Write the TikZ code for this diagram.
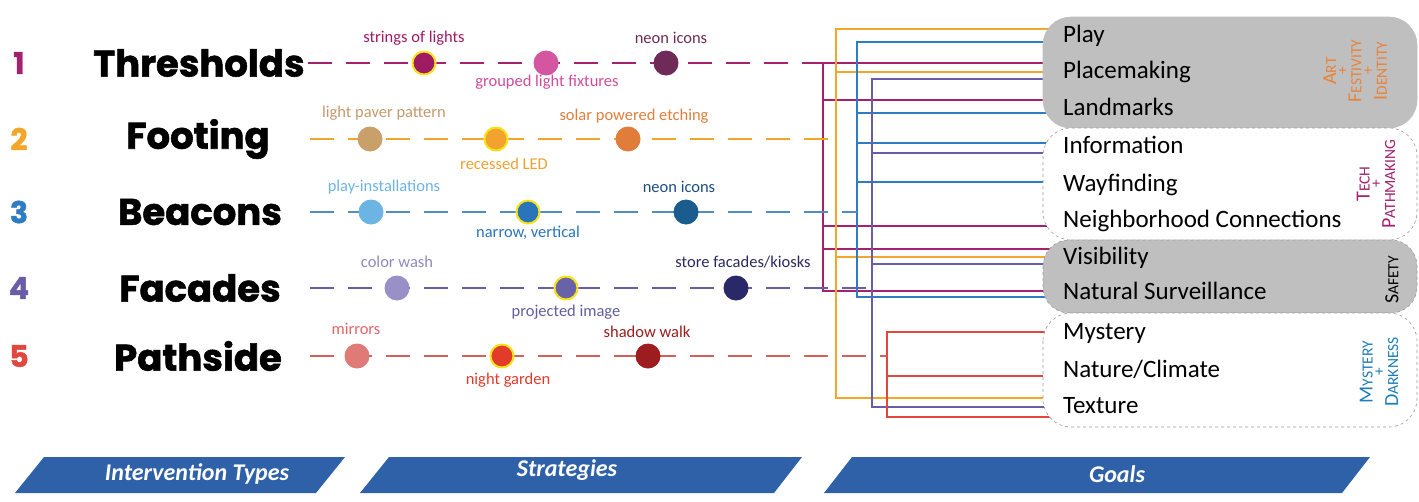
\documentclass[tikz,border=0pt]{standalone}
\usepackage{fontspec}
\setmainfont{Carlito}
\newfontfamily\typefont{Poppins}[BoldFeatures={FakeBold=1.5}]
\definecolor{thrcol}{HTML}{A3216E}
\definecolor{footcol}{HTML}{F4A62A}
\definecolor{beaccol}{HTML}{2E7CC2}
\definecolor{beacrow}{HTML}{4F8DC2}
\definecolor{faccol}{HTML}{6A5CA8}
\definecolor{pathcol}{HTML}{E0483F}
\definecolor{pathrow}{HTML}{D4605A}
\definecolor{litring}{HTML}{F6E21C}
\definecolor{panelgray}{HTML}{BFBFC0}
\definecolor{panelline}{HTML}{9A9A9A}
\definecolor{artcol}{HTML}{E8833A}
\definecolor{mystcol}{HTML}{1C7DBA}
\definecolor{bannerblue}{HTML}{2F61A8}
\pgfdeclarelayer{wires}
\pgfdeclarelayer{panels}
\pgfsetlayers{wires,panels,main}
\newcommand{\fsc}[2]{{\fontsize{20}{11.5}\selectfont #1}{\fontsize{15.5}{11.5}\selectfont #2}}

\begin{document}
\begin{tikzpicture}[x=1pt, y=-1pt,
  typelabel/.style={font=\typefont\bfseries\fontsize{37}{37}\selectfont, inner sep=0pt},
  numlabel/.style={font=\typefont\bfseries\fontsize{30}{30}\selectfont, inner sep=0pt},
  stratlabel/.style={font=\fontsize{16.5}{16.5}\selectfont, inner sep=0pt},
  goal/.style={font=\fontsize{25}{25}\selectfont, anchor=west, inner sep=0pt, text height=17pt, text depth=6pt},
  dot/.style={circle, minimum size=25pt, inner sep=0pt},
  lit/.style={dot, draw=litring, line width=2pt, minimum size=23pt},
  row/.style={dash pattern=on 24pt off 14pt, line width=1.4pt},
  wire/.style={line width=1.3pt},
  panel/.style={rounded corners=28pt, draw=panelline, dashed, line width=0.6pt},
  grouplabel/.style={rotate=90, align=center, inner sep=0pt, font=\fontsize{15.5}{11.5}\selectfont},
  banner/.style={fill=bannerblue},
  bannertext/.style={font=\bfseries\itshape\fontsize{24}{24}\selectfont, text=white, inner sep=0pt}]
\useasboundingbox (0,0) rectangle (1419,501);

\node[numlabel, text=thrcol] (n1) at (19,63) {1};
\node[numlabel, text=footcol] (n2) at (19,139) {2};
\node[numlabel, text=beaccol] (n3) at (19,212) {3};
\node[numlabel, text=faccol] (n4) at (19,288) {4};
\node[numlabel, text=pathcol] (n5) at (19,356) {5};
\node[typelabel] (thresholds) at (199,63) {Thresholds};
\node[typelabel] (footing) at (198,139) {Footing};
\node[typelabel] (beacons) at (200,212) {Beacons};
\node[typelabel] (facades) at (200,288) {Facades};
\node[typelabel] (pathside) at (198,356) {Pathside};

\coordinate (thresholds-in) at (308,63);
\coordinate (footing-in) at (310,139);
\coordinate (beacons-in) at (310,212);
\coordinate (facades-in) at (310,288);
\coordinate (pathside-in) at (310,356);
\coordinate (thresholds-bus) at (823,63);
\coordinate (footing-bus) at (836,139);
\coordinate (beacons-bus) at (857,212);
\coordinate (facades-bus) at (872,288);
\coordinate (pathside-bus) at (887,356);

\draw[row, thrcol] (thresholds-in) -- (thresholds-bus);
\draw[row, footcol] (footing-in) -- (footing-bus);
\draw[row, beacrow] (beacons-in) -- (beacons-bus);
\draw[row, faccol] (facades-in) -- (facades-bus);
\draw[row, pathrow] (pathside-in) -- (pathside-bus);

\node[lit, fill={rgb,255:red,158;green,26;blue,98}] (strings) at (424,63) {};
\node[dot, fill={rgb,255:red,213;green,86;blue,160}] (grouped) at (546,63) {};
\node[dot, fill={rgb,255:red,110;green,43;blue,88}] (neon1) at (666,63) {};
\node[dot, fill={rgb,255:red,201;green,160;blue,106}] (paver) at (370,139) {};
\node[lit, fill={rgb,255:red,242;green,162;blue,46}] (recessed) at (496,139) {};
\node[dot, fill={rgb,255:red,224;green,125;blue,58}] (solar) at (628,139) {};
\node[dot, fill={rgb,255:red,108;green,180;blue,228}] (playinst) at (371,212) {};
\node[lit, fill={rgb,255:red,42;green,116;blue,186}] (narrow) at (528,212) {};
\node[dot, fill={rgb,255:red,26;green,92;blue,142}] (neon3) at (686,212) {};
\node[dot, fill={rgb,255:red,154;green,144;blue,200}] (wash) at (397,288) {};
\node[lit, fill={rgb,255:red,104;green,98;blue,168}] (projected) at (566,288) {};
\node[dot, fill={rgb,255:red,42;green,40;blue,104}] (store) at (736,288) {};
\node[dot, fill={rgb,255:red,224;green,122;blue,118}] (mirrors) at (357,356) {};
\node[lit, fill={rgb,255:red,226;green,59;blue,42}] (nightgarden) at (502,356) {};
\node[dot, fill={rgb,255:red,156;green,28;blue,32}] (shadow) at (648,356) {};

\node[stratlabel, text={rgb,255:red,158;green,26;blue,98}] (strings-lbl) at (414,38) {strings of lights};
\node[stratlabel, text={rgb,255:red,208;green,76;blue,154}] (grouped-lbl) at (547,82) {grouped light fixtures};
\node[stratlabel, text={rgb,255:red,110;green,43;blue,88}] (neon1-lbl) at (671,38) {neon icons};
\node[stratlabel, text={rgb,255:red,196;green,154;blue,108}] (paver-lbl) at (384,113) {light paver pattern};
\node[stratlabel, text={rgb,255:red,240;green,160;blue,48}] (recessed-lbl) at (504,164) {recessed LED};
\node[stratlabel, text={rgb,255:red,224;green,126;blue,58}] (solar-lbl) at (634,116) {solar powered etching};
\node[stratlabel, text={rgb,255:red,108;green,180;blue,228}] (playinst-lbl) at (384,187) {play-installations};
\node[stratlabel, text={rgb,255:red,42;green,116;blue,186}] (narrow-lbl) at (528,233) {narrow, vertical};
\node[stratlabel, text={rgb,255:red,29;green,78;blue,124}] (neon3-lbl) at (679,187) {neon icons};
\node[stratlabel, text={rgb,255:red,144;green,136;blue,192}] (wash-lbl) at (397,262) {color wash};
\node[stratlabel, text={rgb,255:red,96;green,94;blue,158}] (projected-lbl) at (566,312) {projected image};
\node[stratlabel, text={rgb,255:red,42;green,42;blue,94}] (store-lbl) at (743,262) {store facades/kiosks};
\node[stratlabel, text={rgb,255:red,224;green,102;blue,106}] (mirrors-lbl) at (356,329) {mirrors};
\node[stratlabel, text={rgb,255:red,224;green,58;blue,42}] (nightgarden-lbl) at (508,380) {night garden};
\node[stratlabel, text={rgb,255:red,154;green,28;blue,28}] (shadow-lbl) at (647,332) {shadow walk};

\node[goal] (play) at (1063,37) {Play};
\node[goal] (placemaking) at (1063,73) {Placemaking};
\node[goal] (landmarks) at (1063,110) {Landmarks};
\node[goal] (information) at (1063,148) {Information};
\node[goal] (wayfinding) at (1063,186) {Wayfinding};
\node[goal] (neighborhood) at (1063,222) {Neighborhood Connections};
\node[goal] (visibility) at (1063,259) {Visibility};
\node[goal] (surveillance) at (1063,294) {Natural Surveillance};
\node[goal] (mystery) at (1063,334) {Mystery};
\node[goal] (climate) at (1063,372) {Nature/Climate};
\node[goal] (texture) at (1063,408) {Texture};

\node[grouplabel, text=artcol] (art) at (1355,71) {\fsc{A}{RT}\\+\\\fsc{F}{ESTIVITY}\\+\\\fsc{I}{DENTITY}};
\node[grouplabel, text=thrcol] (tech) at (1376,184) {\fsc{T}{ECH}\\+\\\fsc{P}{ATHMAKING}};
\node[grouplabel] (safety) at (1392,280) {\fsc{S}{AFETY}};
\node[grouplabel, text=mystcol] (darkness) at (1379,372) {\fsc{M}{YSTERY}\\+\\\fsc{D}{ARKNESS}};

\begin{pgfonlayer}{wires}
\draw[wire, thrcol] (thresholds-bus) |- ([yshift=10pt]placemaking.west);
\draw[wire, thrcol] (thresholds-bus) |- ([yshift=10pt]landmarks.west);
\draw[wire, thrcol] (thresholds-bus) |- ([yshift=-4pt]neighborhood.west);
\draw[wire, thrcol] (thresholds-bus) |- ([yshift=10pt]visibility.west);
\draw[wire, thrcol] (thresholds-bus) |- ([yshift=3pt]surveillance.west);
\draw[wire, footcol] (footing-bus) |- ([yshift=8pt]play.west);
\draw[wire, footcol] (footing-bus) |- ([yshift=1pt]placemaking.west);
\draw[wire, footcol] (footing-bus) |- ([yshift=2pt]visibility.west);
\draw[wire, footcol] (footing-bus) |- ([yshift=10pt]texture.west);
\draw[wire, beaccol] (beacons-bus) |- ([yshift=-5pt]play.west);
\draw[wire, beaccol] (beacons-bus) |- ([yshift=-3pt]landmarks.west);
\draw[wire, beaccol] (beacons-bus) |- ([yshift=5pt]information.west);
\draw[wire, beaccol] (beacons-bus) |- ([yshift=4pt]wayfinding.west);
\draw[wire, beaccol] (beacons-bus) |- ([yshift=-3pt]surveillance.west);
\draw[wire, faccol] (facades-bus) |- ([yshift=-6pt]placemaking.west);
\draw[wire, faccol] (facades-bus) |- ([yshift=-5pt]information.west);
\draw[wire, faccol] (facades-bus) |- ([yshift=-5pt]visibility.west);
\draw[wire, faccol] (facades-bus) |- ([yshift=1pt]texture.west);
\draw[wire, pathcol] (pathside-bus) |- ([yshift=2pt]mystery.west);
\draw[wire, pathcol] (pathside-bus) |- ([yshift=-4pt]climate.west);
\draw[wire, pathcol] (pathside-bus) |- ([yshift=-9pt]texture.west);
\end{pgfonlayer}

\begin{pgfonlayer}{panels}
\draw[panel, fill=panelgray, solid, draw=panelgray] (1043,17) rectangle (1417,128);
\draw[panel, fill=white] (1043,128) rectangle (1417,240);
\draw[panel, fill=panelgray, rounded corners=26pt] (1043,240) rectangle (1417,313);
\draw[panel, fill=white] (1043,313) rectangle (1417,427);
\end{pgfonlayer}

\fill[banner] (15,493) -- (44,457) -- (345,457) -- (316,493) -- cycle;
\fill[banner] (360,493) -- (389,457) -- (802,457) -- (774,493) -- cycle;
\fill[banner] (824,493) -- (852,457) -- (1370,457) -- (1342,493) -- cycle;
\node[bannertext] (types-lbl) at (197,474) {Intervention Types};
\node[bannertext] (strategies-lbl) at (567,470) {Strategies};
\node[bannertext] (goals-lbl) at (1117,474) {Goals};
\end{tikzpicture}
\end{document}
